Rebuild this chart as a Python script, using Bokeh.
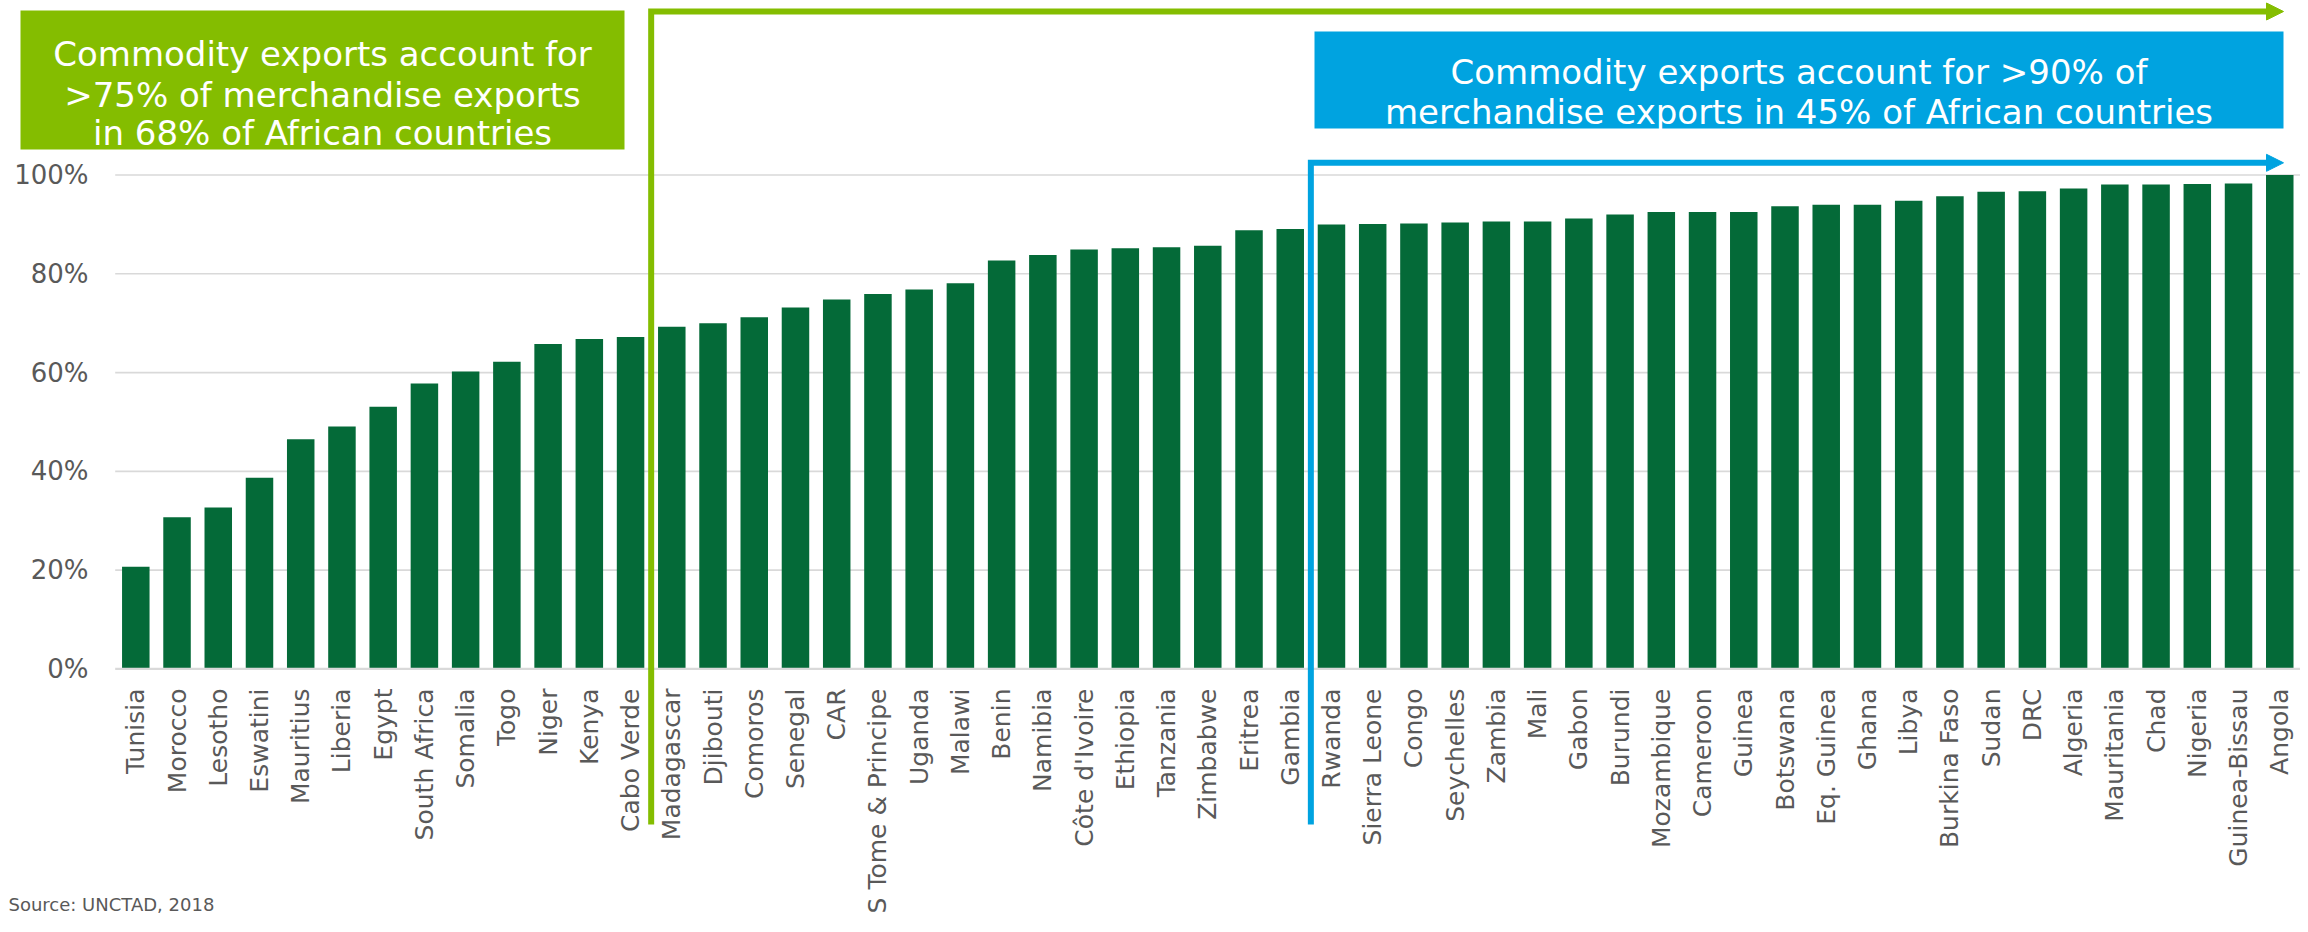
import numpy as np
from bokeh.plotting import figure
from bokeh.models import Range1d, ColumnDataSource, Arrow, NormalHead
from bokeh.core.properties import value
from bokeh.embed import file_html
from bokeh.resources import INLINE

# ---------------- data ----------------
countries = [
    "Tunisia", "Morocco", "Lesotho", "Eswatini", "Mauritius", "Liberia", "Egypt",
    "South Africa", "Somalia", "Togo", "Niger", "Kenya", "Cabo Verde", "Madagascar",
    "Djibouti", "Comoros", "Senegal", "CAR", "S Tome & Principe", "Uganda", "Malawi",
    "Benin", "Namibia", "Côte d'Ivoire", "Ethiopia", "Tanzania", "Zimbabwe", "Eritrea",
    "Gambia", "Rwanda", "Sierra Leone", "Congo", "Seychelles", "Zambia", "Mali",
    "Gabon", "Burundi", "Mozambique", "Cameroon", "Guinea", "Botswana", "Eq. Guinea",
    "Ghana", "Libya", "Burkina Faso", "Sudan", "DRC", "Algeria", "Mauritania", "Chad",
    "Nigeria", "Guinea-Bissau", "Angola",
]
commodity_share = [
    20.7, 30.7, 32.7, 38.7, 46.5, 49.1, 53.1,
    57.8, 60.2, 62.2, 65.8, 66.8, 67.2, 69.3,
    70.0, 71.2, 73.2, 74.8, 75.9, 76.8, 78.1,
    82.7, 83.8, 84.9, 85.2, 85.4, 85.7, 88.8,
    89.1, 90.0, 90.1, 90.2, 90.4, 90.6, 90.6,
    91.2, 92.0, 92.5, 92.5, 92.5, 93.7, 94.0,
    94.0, 94.8, 95.7, 96.6, 96.7, 97.3, 98.1, 98.1,
    98.2, 98.3, 100.0,
]
y_ticks = [0, 20, 40, 60, 80, 100]
y_tick_labels = ["0%", "20%", "40%", "60%", "80%", "100%"]
green_note = ["Commodity exports account for",
              ">75% of merchandise exports",
              "in 68% of African countries"]
blue_note = ["Commodity exports account for >90% of",
             "merchandise exports in 45% of African countries"]
green_from = "Madagascar"
blue_from = "Rwanda"
source_note = "Source: UNCTAD, 2018"

# ---------------- styling / layout ----------------
BAR = "#046A38"
GREEN = "#84BD00"
BLUE = "#00A3E0"
GRID = "#D9D9D9"
TXT = "#595959"
FONT = value("DejaVu Sans")

ORIGIN = 0          # page offset of the canvas (Bokeh's page template has no body margin)
W, H = 2300, 924
# page-pixel geometry
X0, DX = 135.3, 41.23    # page x of first bar centre, px per category
Y0, DY = 668.4, 4.9385   # page y of the 0% line, px per percentage point


def fx(px):
    return (px - X0) / DX


def fy(py):
    return (Y0 - py) / DY


p = figure(width=W, height=H, output_backend="svg", toolbar_location=None,
           x_range=Range1d(fx(ORIGIN), fx(ORIGIN + W)),
           y_range=Range1d(fy(ORIGIN + H), fy(ORIGIN)),
           x_axis_location=None, y_axis_location=None,
           min_border=0, min_border_left=0, min_border_right=0,
           min_border_top=0, min_border_bottom=0, outline_line_color=None)
p.xgrid.visible = False
p.ygrid.visible = False
p.background_fill_color = "white"
p.border_fill_color = "white"

n = len(countries)
idx = list(range(n))
src = ColumnDataSource(dict(x=idx, top=commodity_share, name=countries))

# gridlines
p.segment(x0=[-0.5] * (len(y_ticks) - 1), x1=[n - 0.5] * (len(y_ticks) - 1),
          y0=y_ticks[1:], y1=y_ticks[1:], line_color=GRID, line_width=1.6)

# bars
p.vbar(x="x", top="top", bottom=0, width=0.667, source=src,
       fill_color=BAR, line_color=None)

# baseline
p.segment(x0=[-0.5], x1=[n - 0.5], y0=[0], y1=[0], line_color=GRID, line_width=2.2)

# y tick labels
p.text(x=[fx(88)] * len(y_ticks), y=y_ticks, text=y_tick_labels,
       text_align="right", text_baseline="middle", text_font=FONT,
       text_font_size="26px", text_color=TXT)

# x tick labels (rotated)
p.text(x="x", y=fy(688), text="name", source=src, angle=np.pi / 2,
       text_align="right", text_baseline="middle", text_font=FONT,
       text_font_size="25px", text_color=TXT)

# annotation boxes
p.quad(left=[fx(20)], right=[fx(624)], top=[fy(10)], bottom=[fy(149)],
       fill_color=GREEN, line_color=None)
p.quad(left=[fx(1314)], right=[fx(2283)], top=[fy(31)], bottom=[fy(128)],
       fill_color=BLUE, line_color=None)

p.text(x=[fx(322)] * 3, y=[fy(53.3), fy(94), fy(132.7)], text=green_note,
       text_align="center", text_baseline="alphabetic", text_font=FONT,
       text_font_size="34px", text_color="white")
p.text(x=[fx(1798.5)] * 2, y=[fy(71.7), fy(111.7)], text=blue_note,
       text_align="center", text_baseline="alphabetic", text_font=FONT,
       text_font_size="34px", text_color="white")

# bracket arrows
TIP = 2283
for start_name, top_py, col in [(green_from, 11, GREEN), (blue_from, 162.3, BLUE)]:
    gx = countries.index(start_name) - 0.5
    p.line(x=[gx, gx, fx(TIP - 15)], y=[fy(824), fy(top_py), fy(top_py)],
           line_width=6, line_color=col, line_join="miter", line_cap="butt")
    p.add_layout(Arrow(end=NormalHead(size=17, fill_color=col, line_color=col, line_width=1),
                       x_start=fx(TIP - 30), y_start=fy(top_py),
                       x_end=fx(TIP), y_end=fy(top_py), line_alpha=0))

# source
p.text(x=[fx(8)], y=[fy(904)], text=[source_note], text_align="left",
       text_baseline="alphabetic", text_font=FONT, text_font_size="18px",
       text_color=TXT)

open("out.html", "w").write(file_html(p, INLINE))
